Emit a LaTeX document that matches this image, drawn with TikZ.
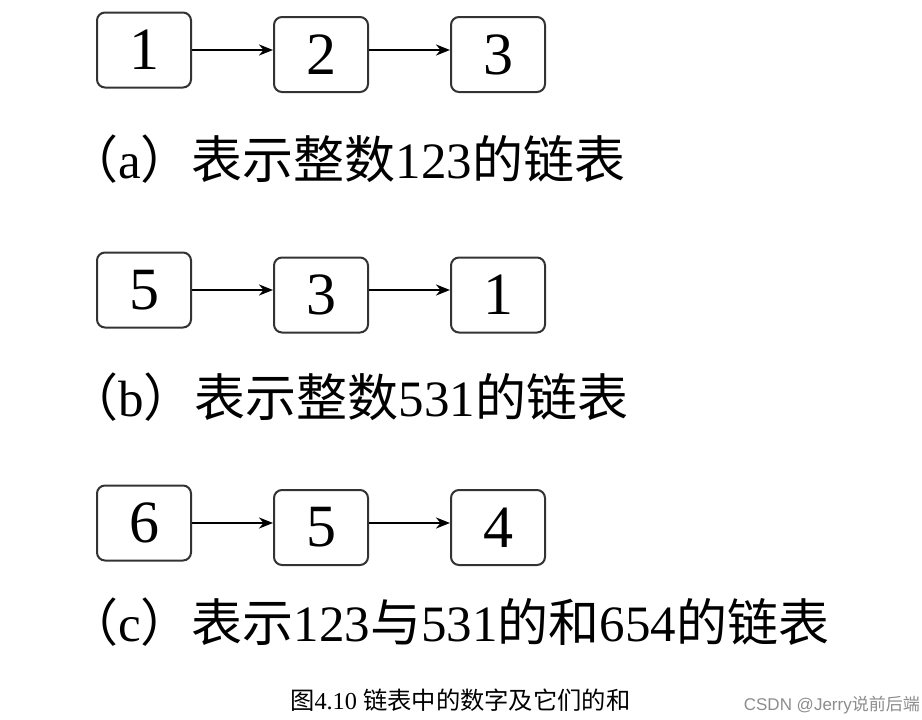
\documentclass[tikz,border=0pt]{standalone}
\usepackage{fontspec}
\setmainfont{Liberation Serif}
\newfontfamily\cjk{Noto Sans CJK SC}
\newfontfamily\wmfont{Liberation Sans}
\usetikzlibrary{arrows.meta}
\tikzset{
  cell/.style={draw=black!80, line width=2pt, rounded corners=8pt, minimum width=94pt, minimum height=75pt, inner sep=0pt, font=\fontsize{60}{60}\selectfont},
  link/.style={line width=2.6pt, -{Stealth[length=14pt,width=11pt]}},
  lbl/.style={anchor=west, inner sep=0pt, font=\fontsize{51}{51}\selectfont},
}
\begin{document}
\begin{tikzpicture}[x=1pt,y=1pt]
\useasboundingbox (0,0) rectangle (922,-720);
% row a
\node[cell] (a1) at (144,-50) {1};
\node[cell] (a2) at (321,-54.5) {2};
\node[cell] (a3) at (498,-54.5) {3};
\draw[link] (a1.east) -- (a1.east -| a2.west);
\draw[link] (a1.east -| a2.east) -- (a1.east -| a3.west);
\node[lbl] (la) at (67,-159) {{\cjk （}a{\cjk ）表示整数}123{\cjk 的链表}};
% row b
\node[cell] (b1) at (144,-290) {5};
\node[cell] (b2) at (321,-295) {3};
\node[cell] (b3) at (498,-295) {1};
\draw[link] (b1.east) -- (b1.east -| b2.west);
\draw[link] (b1.east -| b2.east) -- (b1.east -| b3.west);
\node[lbl] (lb) at (67,-397) {{\cjk （}b{\cjk ）表示整数}531{\cjk 的链表}};
% row c
\node[cell] (c1) at (144,-523) {6};
\node[cell] (c2) at (321,-527.5) {5};
\node[cell] (c3) at (498,-527.5) {4};
\draw[link] (c1.east) -- (c1.east -| c2.west);
\draw[link] (c1.east -| c2.east) -- (c1.east -| c3.west);
\node[lbl] (lc) at (67,-622) {{\cjk （}c{\cjk ）表示}123{\cjk 与}531{\cjk 的和}654{\cjk 的链表}};
% caption
\node[anchor=west, inner sep=0pt, font=\fontsize{24.3}{24.3}\selectfont] (cap) at (290,-700) {{\cjk 图}4.10 {\cjk 链表中的数字及它们的和}};
\node[anchor=east, inner sep=0pt, text=black!45, font=\wmfont\fontsize{17}{17}\selectfont] (wm) at (920,-705) {CSDN @Jerry{\cjk 说前后端}};
\end{tikzpicture}
\end{document}
